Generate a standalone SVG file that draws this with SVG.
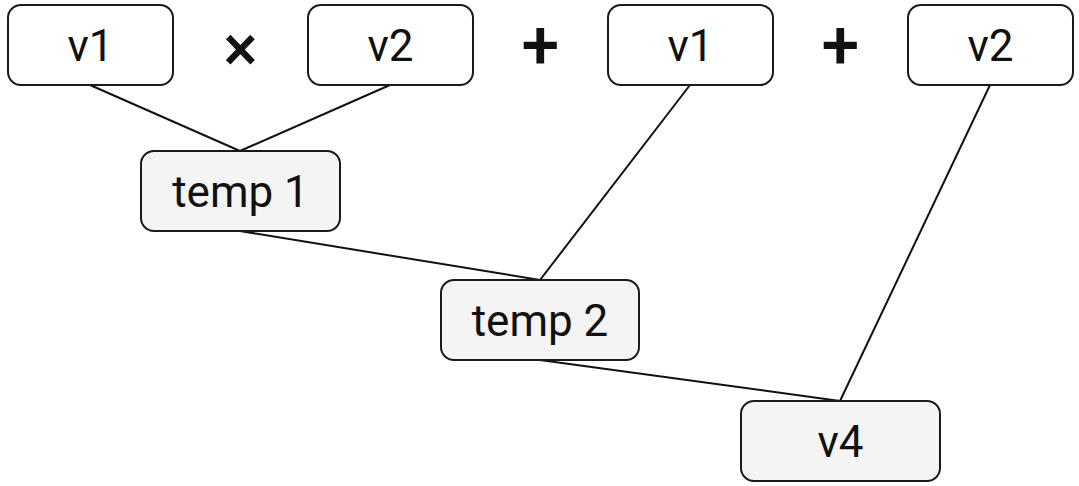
<svg xmlns="http://www.w3.org/2000/svg" width="1079" height="486" viewBox="0 0 1079 486">
<style>
.box{stroke:#1a1a1a;stroke-width:2;}
.top{fill:#ffffff;}
.mid{fill:#f4f4f4;}
.lbl{font-family:Roboto,"Liberation Sans",sans-serif;font-size:44px;fill:#111;text-anchor:middle;dominant-baseline:central;}
.op{font-family:Roboto,"Liberation Sans",sans-serif;font-weight:500;fill:#111;text-anchor:middle;dominant-baseline:central;}
.conn line{stroke:#111;stroke-width:2;}
</style>
<rect width="1079" height="486" fill="#ffffff"/>
<g id="connectors" class="conn">
<line x1="90" y1="85" x2="240" y2="151"/>
<line x1="390" y1="85" x2="240" y2="151"/>
<line x1="690" y1="85" x2="540" y2="280"/>
<line x1="240" y1="231" x2="540" y2="280"/>
<line x1="540" y1="360" x2="840" y2="401"/>
<line x1="990" y1="85" x2="840" y2="401"/>
</g>
<g id="n_v1a"><rect class="box top" x="8" y="5" width="165" height="80" rx="13"/><text class="lbl" x="90.5" y="46">v1</text></g>
<g id="op_times"><text class="op" x="240.5" y="49" font-size="64">×</text></g>
<g id="n_v2a"><rect class="box top" x="308" y="5" width="165" height="80" rx="13"/><text class="lbl" x="390.5" y="46">v2</text></g>
<g id="op_plus1"><text class="op" x="540.5" y="46" font-size="68">+</text></g>
<g id="n_v1b"><rect class="box top" x="608" y="5" width="165" height="80" rx="13"/><text class="lbl" x="690.5" y="46">v1</text></g>
<g id="op_plus2"><text class="op" x="840.5" y="46" font-size="68">+</text></g>
<g id="n_v2b"><rect class="box top" x="908" y="5" width="165" height="80" rx="13"/><text class="lbl" x="990.5" y="46">v2</text></g>
<g id="n_temp1"><rect class="box mid" x="141" y="151" width="199" height="80" rx="13"/><text class="lbl" x="240.5" y="192">temp 1</text></g>
<g id="n_temp2"><rect class="box mid" x="441" y="280" width="198" height="80" rx="13"/><text class="lbl" x="540" y="321">temp 2</text></g>
<g id="n_v4"><rect class="box mid" x="741" y="401" width="199" height="80" rx="13"/><text class="lbl" x="840.5" y="442">v4</text></g>
</svg>
